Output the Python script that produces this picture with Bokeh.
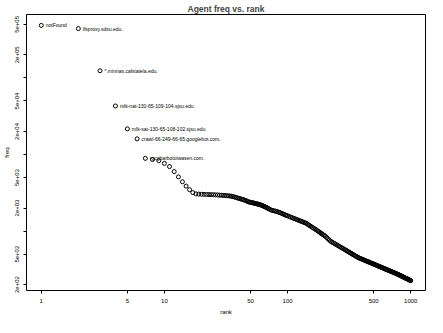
from bokeh.plotting import figure
from bokeh.models import Range1d, FixedTicker
from bokeh.embed import file_html
from bokeh.resources import INLINE
from bokeh.core.properties import value

# ---- data ----
ranks = [1, 2, 3, 4, 5, 6, 7, 8, 9, 10,
         11, 12, 13, 14, 15, 16, 17, 18, 19, 20,
         21, 22, 23, 24, 25, 26, 27, 28, 29, 30,
         31, 32, 33, 34, 35, 36, 37, 38, 39, 40,
         41, 42, 43, 44, 45, 46, 47, 48, 49,
         50, 51, 52, 53, 54, 55, 56, 57, 58, 59, 60,
         61, 62, 63, 64, 65, 66, 67, 68, 69, 70,
         72, 74, 76, 78, 80, 82, 84, 86, 88, 90, 92, 94, 96, 98, 100,
         103, 106, 109, 112, 115, 118, 121, 124, 127, 130, 133, 136, 139, 142,
         145, 148, 151, 155, 159, 163, 167, 171,
         175, 179, 183, 187, 191, 195, 199, 203,
         208, 213, 218, 223,
         229, 235, 241, 247, 253, 259, 265, 271, 277,
         283, 289, 295, 301, 307, 313, 319, 325, 331, 337, 343, 350, 357, 364, 371,
         378, 385, 392, 399, 406, 413, 420, 427, 434, 441, 448, 455, 462, 469, 476, 483, 490,
         498, 506, 514, 522, 530, 538,
         546, 554, 562, 570, 578, 586, 594, 602, 610, 618, 626, 634, 642, 650,
         659, 668, 677, 686, 695, 704, 713, 722, 731, 740, 749, 758, 767, 776,
         786, 795, 804, 813, 822, 831, 840, 849, 858, 867, 876, 885, 894, 903,
         912, 921, 930, 940, 950, 960, 970, 980, 990, 1000]
freqs = [485000, 440000, 124000, 43000, 21600, 16000, 8900, 8600, 8300, 7650,
         6950, 5980, 5100, 4400, 3870, 3470, 3180, 3060, 3040, 3025,
         3015, 3005, 2995, 2990, 2980, 2970, 2960, 2950, 2935, 2925,
         2910, 2900, 2885, 2870, 2855, 2820, 2785, 2750, 2715, 2680,
         2650, 2620, 2590, 2560, 2530, 2490, 2450, 2410, 2390,
         2375, 2358, 2340, 2323, 2306, 2289, 2272, 2255, 2238, 2221, 2204,
         2188, 2163, 2138, 2113, 2088, 2063, 2038, 2013, 1988, 1963,
         1913, 1875, 1855, 1835, 1815, 1795, 1772, 1748, 1723, 1698, 1672, 1646, 1621, 1600, 1585,
         1552, 1523, 1495, 1469, 1444, 1420, 1398, 1376, 1355, 1335, 1316, 1298, 1280, 1262,
         1231, 1205, 1180, 1148, 1118, 1090, 1063, 1036,
         1009, 984, 960, 937, 915, 894, 874, 855,
         823, 793, 765, 738,
         720, 702, 686, 670, 655, 641, 627, 614, 603,
         590, 578, 567, 556, 545, 535, 526, 516, 507, 499, 490, 481, 472, 463, 455,
         448, 442, 437, 431, 427, 422, 417, 412, 408, 403, 399, 395, 391, 387, 383, 379, 376,
         372, 368, 364, 360, 356, 353,
         349, 346, 342, 339, 336, 333, 330, 327, 324, 321, 318, 316, 313, 310,
         307, 305, 302, 299, 296, 294, 291, 289, 286, 284, 282, 279, 277, 275,
         273, 270, 268, 265, 263, 261, 259, 256, 254, 252, 250, 248, 246, 244,
         242, 240, 239, 237, 235, 233, 231, 229, 227, 225]

label_ranks = [1, 2, 3, 4, 5, 6, 7]
label_freqs = [485000, 440000, 124000, 43000, 21600, 16000, 8900]
labels = ["notFound", "lfsproxy.sdsu.edu.", "*.minnas.calstatela.edu.",
          "mlk-nat-130-65-109-104.sjsu.edu.", "mlk-sat-130-65-108-102.sjsu.edu.",
          "crawl-66-249-66-65.googlebot.com.", "rgcgbarbotoiwasen.com."]

x_ticks = [1, 5, 10, 50, 100, 500, 1000]
x_tick_labels = ["1", "5", "10", "50", "100", "500", "1000"]
y_ticks = [200, 500, 1000, 2000, 5000, 10000, 20000, 50000, 100000, 200000, 500000]
y_tick_labels = ["2e+02", "5e+02", "", "2e+03", "5e+03", "", "2e+04", "5e+04", "", "2e+05", "5e+05"]

FONT = "Liberation Sans"

p = figure(width=427, height=317, x_axis_type="log", y_axis_type="log",
           x_range=Range1d(10 ** -0.12, 10 ** 3.12),
           y_range=Range1d(10 ** 2.224, 10 ** 5.828),
           output_backend="svg", toolbar_location=None,
           min_border_left=24, min_border_right=2, min_border_top=12, min_border_bottom=25)

p.title.text = "Agent freq vs. rank"
p.title.align = "center"
p.title.text_font = FONT
p.title.text_font_size = "8.5px"
p.title.text_font_style = "bold"
p.title.standoff = 2

p.xgrid.visible = False
p.ygrid.visible = False
p.outline_line_color = "black"
p.outline_line_width = 1

for ax in (p.xaxis[0], p.yaxis[0]):
    ax.axis_line_color = None
    ax.major_tick_out = 3
    ax.major_tick_in = 0
    ax.minor_tick_out = 0
    ax.minor_tick_in = 0
    ax.major_tick_line_color = "black"
    ax.major_label_text_font = FONT
    ax.major_label_text_font_size = "6px"
    ax.major_label_text_color = "black"
    ax.axis_label_text_font = FONT
    ax.axis_label_text_font_size = "6px"
    ax.axis_label_text_font_style = "normal"
    ax.axis_label_text_color = "black"

p.xaxis.ticker = FixedTicker(ticks=x_ticks)
p.xaxis.major_label_overrides = {t: s for t, s in zip(x_ticks, x_tick_labels)}
p.xaxis.major_label_standoff = 5
p.xaxis.axis_label = "rank"
p.xaxis.axis_label_standoff = 3

p.yaxis.ticker = FixedTicker(ticks=y_ticks)
p.yaxis.major_label_overrides = {t: s for t, s in zip(y_ticks, y_tick_labels)}
p.yaxis.major_label_orientation = "vertical"
p.yaxis.major_label_standoff = 4
p.yaxis.axis_label = "freq"
p.yaxis.axis_label_standoff = 3

p.scatter(ranks, freqs, marker="circle", size=4, fill_color=None,
          line_color="black", line_width=1)

p.text(x=label_ranks, y=label_freqs, text=labels, x_offset=4.5,
       text_align="left", text_baseline="middle",
       text_font=value(FONT), text_font_size=value("5px"), text_color="black")

open("out.html", "w").write(file_html(p, INLINE))
